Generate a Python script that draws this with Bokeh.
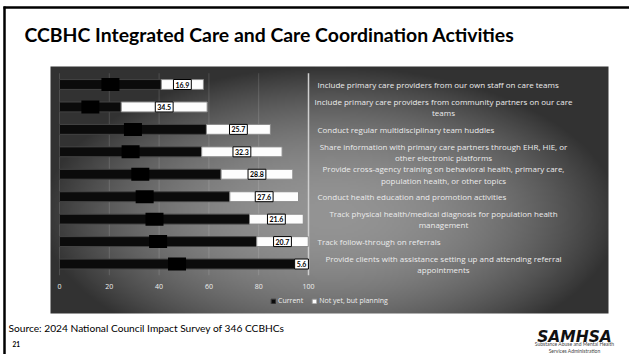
import numpy as np
from bokeh.plotting import figure
from bokeh.models import Range1d, Legend, LegendItem, ColumnDataSource
from bokeh.core.properties import value
from bokeh.embed import file_html
from bokeh.resources import INLINE

# ---------------- data ----------------
categories = [
    "Include primary care providers from our own staff on care teams",
    "Include primary care providers from community partners on our care\nteams",
    "Conduct regular multidisciplinary team huddles",
    "Share information with primary care partners through EHR, HIE, or\nother electronic platforms",
    "Provide cross-agency training on behavioral health, primary care,\npopulation health, or other topics",
    "Conduct health education and promotion activities",
    "Track physical health/medical diagnosis for population health\nmanagement",
    "Track follow-through on referrals",
    "Provide clients with assistance setting up and attending referral\nappointments",
]
current = [40.9, 24.8, 59.0, 57.1, 64.9, 68.4, 76.3, 79.2, 94.4]
planning = [16.9, 34.5, 25.7, 32.3, 28.8, 27.6, 21.6, 20.7, 5.6]
series_names = ["Current", "Not yet, but planning"]
x_ticks = [0, 20, 40, 60, 80, 100]
x_tick_labels = ["0", "20", "40", "60", "80", "100"]
title_text = "CCBHC Integrated Care and Care Coordination Activities"
source_text = "Source:  2024 National Council Impact Survey of 346 CCBHCs"
page_number = "21"
logo_text = "SAMHSA"
logo_sub = ["Substance Abuse and Mental Health", "Services Administration"]

# ---------------- layout ----------------
W, H = 629, 354
X0_PX, X100_PX = 59.0, 308.0
K = (X100_PX - X0_PX) / 100.0
ROW0_PX, ROW_STEP = 84.0, 22.44
PANEL = (50, 66, 608, 313)  # left, top, right, bottom (px)
LINE_GAP = 11.5 / ROW_STEP  # distance between wrapped label lines (data units)

n = len(categories)
ys = list(range(n))

p = figure(width=W, height=H, output_backend="svg", toolbar_location=None,
           x_range=Range1d(-X0_PX / K, (W - X0_PX) / K),
           y_range=Range1d((H - ROW0_PX) / ROW_STEP, -ROW0_PX / ROW_STEP),
           min_border=0, x_axis_location=None, y_axis_location=None,
           outline_line_color=None, background_fill_color="#ffffff",
           border_fill_color="#ffffff")
p.xgrid.visible = False
p.ygrid.visible = False
p.extra_x_ranges = {"px": Range1d(0, W)}
p.extra_y_ranges = {"px": Range1d(H, 0), "pxb": Range1d(0, H)}

# panel background (radial grey shading)
gl, gt, gr, gb = PANEL
gw, gh = 279, 124
gx = np.linspace(gl, gr, gw)
gy = np.linspace(gb, gt, gh)
GX, GY = np.meshgrid(gx, gy)
t2 = ((GX - 330) / 290.0) ** 2 + ((GY - 215) / 150.0) ** 2
v = np.clip(148 - 98 * t2, 50, 150).astype(np.uint8)
rgba = np.zeros((gh, gw, 4), dtype=np.uint8)
rgba[..., 0] = v
rgba[..., 1] = v
rgba[..., 2] = v
rgba[..., 3] = 255
img = rgba.view(np.uint32).reshape(gh, gw)
p.image_rgba(image=[img], x=gl, y=H - gb, dw=gr - gl, dh=gb - gt,
             x_range_name="px", y_range_name="pxb")

# grid lines
p.segment(x0=x_ticks[:-1], y0=-0.5, x1=x_ticks[:-1], y1=n - 0.5,
          line_color="#ffffff", line_alpha=0.14, line_width=1)
p.segment(x0=[x_ticks[-1]], y0=-0.5, x1=[x_ticks[-1]], y1=n - 0.5,
          line_color="#cfcfcf", line_width=1.5)

src = ColumnDataSource(dict(
    y=ys,
    current=current,
    planning=planning,
    total=[c + q for c, q in zip(current, planning)],
    cur_mid=[c / 2 for c in current],
    plan_mid=[c + q / 2 for c, q in zip(current, planning)],
    plan_lbl=[f"{q:.1f}" for q in planning],
))

BAR_H = 0.44
r_cur = p.hbar(y="y", left=0, right="current", height=BAR_H, source=src,
               fill_color="#0b0b0b", line_color="#444444", line_width=1)
r_plan = p.hbar(y="y", left="current", right="total", height=BAR_H, source=src,
                fill_color="#fdfdfd", line_color="#8a8a8a", line_width=1)

# (hidden) data labels of the "Current" series: black boxes
p.rect(x="cur_mid", y="y", width=18, height=13, width_units="screen",
       height_units="screen", fill_color="#000000", line_color=None, source=src)

# data labels of the "Not yet, but planning" series
p.text(x="plan_mid", y="y", text="plan_lbl", source=src,
       text_align="center", text_baseline="middle",
       text_font=value("Lato"), text_font_style="bold", text_font_size="7px",
       text_color="#000000", background_fill_color="#ffffff",
       border_line_color="#000000", border_line_width=1, padding=2)

# category labels (right of the chart), wrapped labels split into lines
LBL_LEFT = (317 - X0_PX) / K
LBL_CENTER = (443 - X0_PX) / K
s_x, s_y, s_t = [], [], []
m_x, m_y, m_t = [], [], []
for yi, cat in zip(ys, categories):
    lines = cat.split("\n")
    if len(lines) == 1:
        s_x.append(LBL_LEFT); s_y.append(yi); s_t.append(cat)
    else:
        top = yi - LINE_GAP * (len(lines) - 1) / 2
        for j, ln in enumerate(lines):
            m_x.append(LBL_CENTER); m_y.append(top + j * LINE_GAP); m_t.append(ln)
lbl_style = dict(text_font=value("Open Sans"), text_font_size="8px",
                 text_color="#ececec", text_baseline="middle")
p.text(x=s_x, y=s_y, text=s_t, text_align="left", **lbl_style)
p.text(x=m_x, y=m_y, text=m_t, text_align="center", **lbl_style)

# x tick labels
p.text(x=x_ticks, y=[n] * len(x_ticks), text=x_tick_labels,
       text_align="center", text_baseline="middle",
       text_font=value("Open Sans"), text_font_size="7px", text_color="#eeeeee")

# legend
legend = Legend(items=[LegendItem(label=series_names[0], renderers=[r_cur]),
                       LegendItem(label=series_names[1], renderers=[r_plan])],
                location=(270, H - 305), orientation="horizontal",
                label_text_font="Open Sans", label_text_font_size="7px",
                label_text_color="#eeeeee", label_height=8, label_standoff=2,
                glyph_height=6, glyph_width=6, spacing=8, padding=0, margin=0,
                background_fill_alpha=0, border_line_alpha=0)
p.add_layout(legend)

# slide decorations
p.segment(x0=[3, 4], y0=[7, 6], x1=[W, 4], y1=[7, H], line_color="#000000",
          line_width=2.5, x_range_name="px", y_range_name="px")
p.text(x=[24], y=[33.5], text=[title_text], text_font=value("Lato"),
       text_font_style="bold", text_font_size="19.4px", text_color="#000000",
       text_baseline="alphabetic", x_range_name="px", y_range_name="px")
p.text(x=[8], y=[327], text=[source_text], text_font=value("Lato"),
       text_font_size="10.2px", text_color="#000000", text_baseline="middle",
       x_range_name="px", y_range_name="px")
p.text(x=[12], y=[343], text=[page_number], text_font=value("Lato"),
       text_font_style="bold", text_font_size="6.5px", text_color="#000000",
       text_baseline="middle", x_range_name="px", y_range_name="px")
p.text(x=[574], y=[336], text=[logo_text], text_font=value("DejaVu Sans"),
       text_font_style="bold italic", text_font_size="15.5px", text_color="#111111",
       text_align="center", text_baseline="alphabetic",
       x_range_name="px", y_range_name="px")
p.text(x=[574, 574], y=[343.5, 350.5], text=logo_sub, text_font=value("Lato"),
       text_font_size="5px", text_color="#444444", text_align="center",
       text_baseline="middle", x_range_name="px", y_range_name="px")

open("out.html", "w").write(file_html(p, INLINE))
